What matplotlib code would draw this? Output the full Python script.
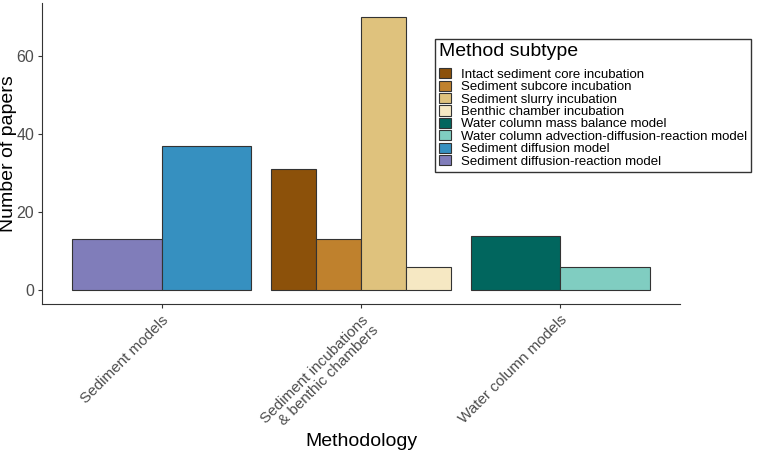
import matplotlib.pyplot as plt
from matplotlib.patches import Patch

plt.rcParams['font.family'] = ['Liberation Sans', 'DejaVu Sans']

# categories on the x axis
methodologies = ['Sediment models', 'Sediment incubations\n& benthic chambers', 'Water column models']

# subtypes (legend order) and their colours
subtypes = ['Intact sediment core incubation', 'Sediment subcore incubation',
            'Sediment slurry incubation', 'Benthic chamber incubation',
            'Water column mass balance model', 'Water column advection-diffusion-reaction model',
            'Sediment diffusion model', 'Sediment diffusion-reaction model']
colors = ['#8C510A', '#BF812D', '#DFC27D', '#F6E8C3',
          '#01665E', '#80CDC1', '#3690C0', '#807DBA']

# bars in each methodology group, left to right
group_subtypes = [
    ['Sediment diffusion-reaction model', 'Sediment diffusion model'],
    ['Intact sediment core incubation', 'Sediment subcore incubation',
     'Sediment slurry incubation', 'Benthic chamber incubation'],
    ['Water column mass balance model', 'Water column advection-diffusion-reaction model'],
]
group_counts = [
    [13, 37],
    [31, 13, 70, 6],
    [14, 6],
]

color_of = dict(zip(subtypes, colors))

fig = plt.figure(figsize=(7.61, 4.54), dpi=100, facecolor='white')
ax = fig.add_axes([0.0552, 0.3304, 0.8384, 0.663])

# dodge bars inside each group, like ggplot position_dodge
for i, (subs, counts) in enumerate(zip(group_subtypes, group_counts)):
    x0 = i + 1
    n = len(subs)
    w = 0.9 / n
    for j, (s, c) in enumerate(zip(subs, counts)):
        xc = x0 - 0.45 + w * (j + 0.5)
        ax.bar(xc, c, width=w, color=color_of[s], edgecolor='#333333', linewidth=0.8)

ax.set_xlim(0.4, 3.6)
ax.set_ylim(-3.5, 73.5)
ax.set_xticks([1, 2, 3])
ax.set_xticklabels(methodologies, rotation=45, ha='right', va='top',
                   rotation_mode='anchor', fontsize=11, color='#4d4d4d', linespacing=1.05)
ax.set_yticks([0, 20, 40, 60])
ax.tick_params(axis='y', labelsize=11.5, labelcolor='#4d4d4d', color='#333333',
               length=3, pad=2.5)
ax.tick_params(axis='x', color='#333333', length=3)
ax.spines['top'].set_visible(False)
ax.spines['right'].set_visible(False)
ax.spines['left'].set_color('#333333')
ax.spines['bottom'].set_color('#333333')
ax.set_ylabel('Number of papers', fontsize=14)
ax.yaxis.set_label_coords(-0.039, 0.5)
ax.set_xlabel('Methodology', fontsize=14)
ax.xaxis.set_label_coords(0.5, -0.43)

handles = [Patch(facecolor=c, edgecolor='#333333', linewidth=0.8) for c in colors]
leg = fig.legend(handles, subtypes, title='Method subtype', loc='upper left',
                 bbox_to_anchor=(0.5716, 0.914), borderaxespad=0, fontsize=9.5,
                 title_fontsize=14, frameon=True, fancybox=False, edgecolor='black',
                 handlelength=0.95, handleheight=0.8, handletextpad=0.75,
                 labelspacing=-0.02, borderpad=0.3, alignment='left')
leg.get_frame().set_linewidth(1.0)
# more room between title and entries than between the entries
leg._legend_box.sep = 6

fig.savefig('out.png', dpi=100)
